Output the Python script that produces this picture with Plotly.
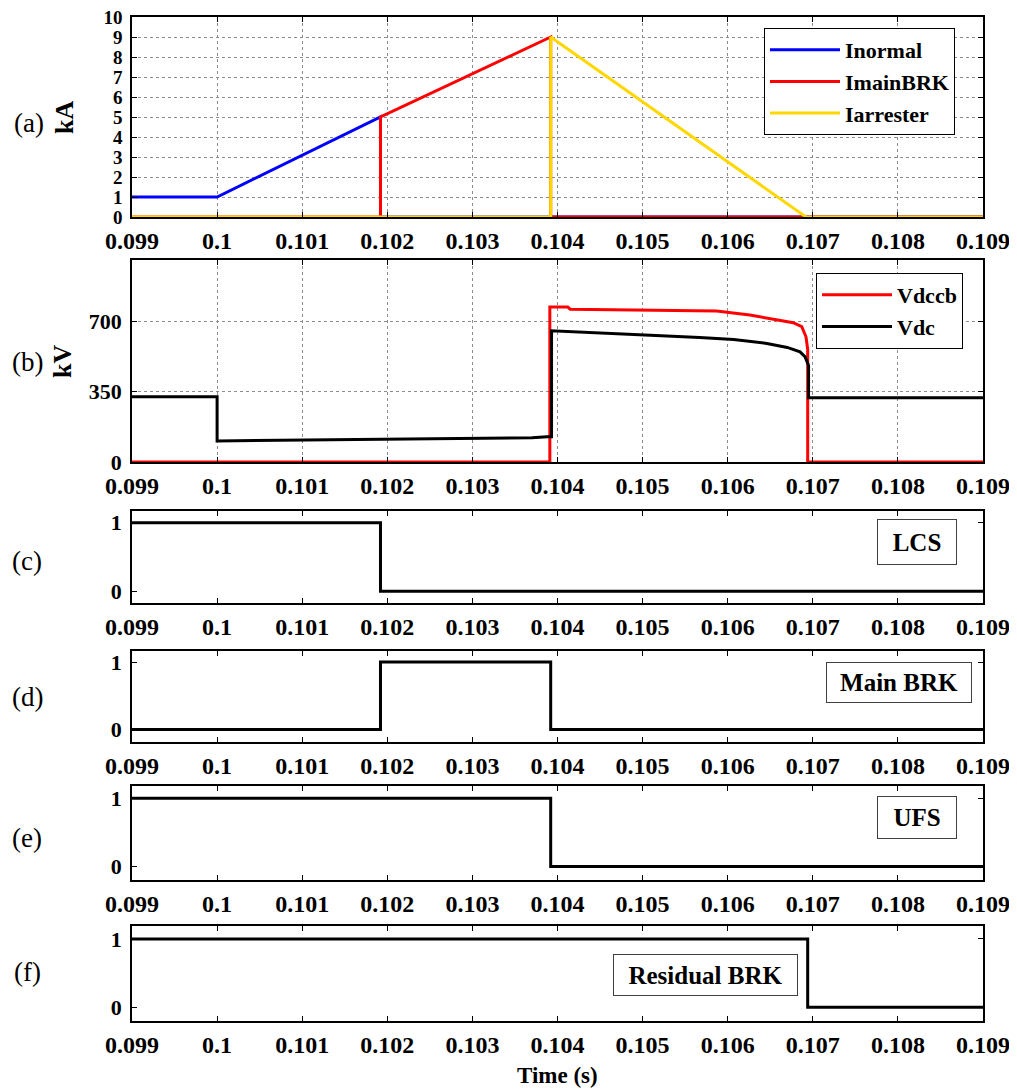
import plotly.graph_objects as go
from plotly.subplots import make_subplots

# ---------------- data ----------------
x_ticks = [0.099, 0.100, 0.101, 0.102, 0.103, 0.104, 0.105, 0.106, 0.107, 0.108, 0.109]
x_ticktext = ["0.099", "0.1", "0.101", "0.102", "0.103", "0.104", "0.105", "0.106", "0.107", "0.108", "0.109"]

# (a) currents, kA
t_inormal = [0.099, 0.100, 0.10192, 0.10192, 0.109]
i_inormal = [1, 1, 5, 0, 0]
t_imain = [0.099, 0.10192, 0.10192, 0.10392, 0.10392, 0.109]
i_imain = [0, 0, 5, 9, 0, 0]
t_iarr = [0.099, 0.10392, 0.10392, 0.10692, 0.109]
i_iarr = [0, 0, 9, 0, 0]
ya_ticks = [0, 1, 2, 3, 4, 5, 6, 7, 8, 9, 10]

# (b) voltages, kV
t_vdccb = [0.099, 0.10391, 0.10391, 0.10412, 0.10415, 0.10513, 0.10587, 0.10626,
           0.10658, 0.10677, 0.10687, 0.10692, 0.10694, 0.10694, 0.109]
v_vdccb = [0, 0, 771, 771, 760, 756, 751, 731, 709, 693, 673, 623, 560, 0, 0]
t_vdc = [0.099, 0.100, 0.100, 0.101, 0.1024, 0.1037, 0.10388, 0.10393, 0.10393,
         0.1045, 0.10509, 0.10567, 0.10607, 0.10646, 0.10670, 0.10685, 0.10691,
         0.10695, 0.10695, 0.109]
v_vdc = [325, 325, 105, 110, 117, 121, 126, 126, 653, 640, 630, 619, 609, 590,
         570, 548, 523, 480, 320, 320]
yb_ticks = [0, 350, 700]

# (c)-(f) switch states
t_lcs = [0.099, 0.10192, 0.10192, 0.109]
s_lcs = [1, 1, 0, 0]
t_main = [0.099, 0.10192, 0.10192, 0.10392, 0.10392, 0.109]
s_main = [0, 0, 1, 1, 0, 0]
t_ufs = [0.099, 0.10392, 0.10392, 0.109]
s_ufs = [1, 1, 0, 0]
t_res = [0.099, 0.10694, 0.10694, 0.109]
s_res = [1, 1, 0, 0]
ys_ticks = [0, 1]

# ---------------- figure ----------------
OFF = 8  # page body margin
W, H = 1017 - OFF, 1090 - OFF
REF_L, REF_R, REF_T, REF_B = 132, 983, 17, 1021   # plot area in reference pixels
ML, MT = REF_L - OFF, REF_T - OFF
PW, PH = REF_R - REF_L, REF_B - REF_T
MR, MB = W - ML - PW, H - MT - PH

def px(x):
    return (x - REF_L) / PW

def py(y):
    return 1 - (y - REF_T) / PH

FONT = "Liberation Serif, Times New Roman, serif"

def bold(v):
    return "<b>%s</b>" % v

fig = make_subplots(rows=6, cols=1)

# panel (a)
fig.add_trace(go.Scatter(x=t_inormal, y=i_inormal, mode="lines", name=bold("Inormal"),
                         line=dict(color="#0000ff", width=3), legend="legend"), row=1, col=1)
fig.add_trace(go.Scatter(x=t_imain, y=i_imain, mode="lines", name=bold("ImainBRK"),
                         line=dict(color="#ff0000", width=3), legend="legend"), row=1, col=1)
fig.add_trace(go.Scatter(x=t_iarr, y=i_iarr, mode="lines", name=bold("Iarrester"),
                         line=dict(color="#ffd700", width=3), legend="legend"), row=1, col=1)
# panel (b)
fig.add_trace(go.Scatter(x=t_vdccb, y=v_vdccb, mode="lines", name=bold("Vdccb"),
                         line=dict(color="#ff0000", width=3), legend="legend2"), row=2, col=1)
fig.add_trace(go.Scatter(x=t_vdc, y=v_vdc, mode="lines", name=bold("Vdc"),
                         line=dict(color="#000000", width=3), legend="legend2"), row=2, col=1)
# panels (c)-(f)
for r, (tt, ss) in enumerate([(t_lcs, s_lcs), (t_main, s_main), (t_ufs, s_ufs), (t_res, s_res)], start=3):
    fig.add_trace(go.Scatter(x=tt, y=ss, mode="lines", showlegend=False,
                             line=dict(color="#000000", width=3)), row=r, col=1)

# panel pixel extents (top, bottom) in reference pixels
panels = [(17, 217), (260, 462), (511, 603), (651, 742), (786, 880), (926, 1021)]
yranges = [[0, 10], [0, 1005], [-0.17, 1.17], [-0.185, 1.165], [-0.2, 1.18], [-0.2, 1.19]]
ytickvals = [ya_ticks, yb_ticks, ys_ticks, ys_ticks, ys_ticks, ys_ticks]
ytsize = [19, 22, 22, 22, 22, 22]

for i, ((top, bot), yr, ytv, ts) in enumerate(zip(panels, yranges, ytickvals, ytsize), start=1):
    grid = i <= 2
    fig.update_xaxes(row=i, col=1, range=[0.099, 0.109], tickvals=x_ticks,
                     ticktext=[bold(t) for t in x_ticktext],
                     showline=True, linecolor="black", linewidth=1.5, mirror="ticks",
                     ticks="inside", ticklen=5, tickcolor="black", tickwidth=1,
                     showgrid=grid, gridcolor="#8c8c8c", griddash="dot", gridwidth=1,
                     zeroline=False, ticklabeloverflow="allow",
                     tickfont=dict(family=FONT, size=24, color="black"),
                     ticklabelstandoff=1)
    fig.update_yaxes(row=i, col=1, range=yr, tickvals=ytv, ticktext=[bold(v) for v in ytv],
                     domain=[py(bot), py(top)],
                     showline=True, linecolor="black", linewidth=1.5, mirror="ticks",
                     ticks="inside", ticklen=5, tickcolor="black", tickwidth=1,
                     showgrid=grid, gridcolor="#8c8c8c", griddash="dot", gridwidth=1,
                     zeroline=False, ticklabeloverflow="allow",
                     tickfont=dict(family=FONT, size=ts, color="black"),
                     ticklabelstandoff=4)

annotations = []
# panel labels
for lab, (xx, yy) in zip(["(a)", "(b)", "(c)", "(d)", "(e)", "(f)"],
                         [(29, 123), (27, 362), (27, 561), (27, 697), (27, 838), (27, 972)]):
    annotations.append(dict(text=lab, x=px(xx), y=py(yy), xref="paper", yref="paper",
                            showarrow=False, xanchor="center", yanchor="middle",
                            font=dict(family=FONT, size=27, color="black")))
# axis unit labels
for lab, (xx, yy) in zip(["kA", "kV"], [(64, 118), (63, 362)]):
    annotations.append(dict(text=bold(lab), x=px(xx), y=py(yy), xref="paper", yref="paper",
                            showarrow=False, textangle=-90, xanchor="center", yanchor="middle",
                            font=dict(family=FONT, size=26, color="black")))
# x-axis title
annotations.append(dict(text=bold("Time (s)"), x=px(557), y=py(1075), xref="paper", yref="paper",
                        showarrow=False, xanchor="center", yanchor="middle",
                        font=dict(family=FONT, size=23, color="black")))
# state boxes
for lab, (x0, x1, y0, y1) in zip(["LCS", "Main BRK", "UFS", "Residual BRK"],
                                 [(877, 957, 519, 565), (826, 972, 662, 703),
                                  (877, 957, 796, 839), (613, 798, 954, 996)]):
    annotations.append(dict(text=bold(lab), x=px((x0 + x1) / 2), y=py((y0 + y1) / 2),
                            xref="paper", yref="paper", showarrow=False,
                            xanchor="center", yanchor="middle",
                            width=x1 - x0 - 4, height=y1 - y0 - 4, borderpad=1,
                            bordercolor="#404040", borderwidth=1, bgcolor="white",
                            font=dict(family=FONT, size=25, color="black")))

fig.update_layout(
    width=W, height=H,
    margin=dict(l=ML, r=MR, t=MT, b=MB, autoexpand=False),
    paper_bgcolor="white", plot_bgcolor="white",
    annotations=annotations,
    legend=dict(x=px(764), y=py(28), xanchor="left", yanchor="top",
                bordercolor="black", borderwidth=1, bgcolor="white",
                itemwidth=70, tracegroupgap=0, entrywidth=196, entrywidthmode="pixels",
                font=dict(family=FONT, size=22, color="black")),
    legend2=dict(x=px(816), y=py(273), xanchor="left", yanchor="top",
                 bordercolor="black", borderwidth=1, bgcolor="white",
                 itemwidth=70, tracegroupgap=0, entrywidth=144, entrywidthmode="pixels",
                 font=dict(family=FONT, size=22, color="black")),
)

fig.write_html("out.html")
